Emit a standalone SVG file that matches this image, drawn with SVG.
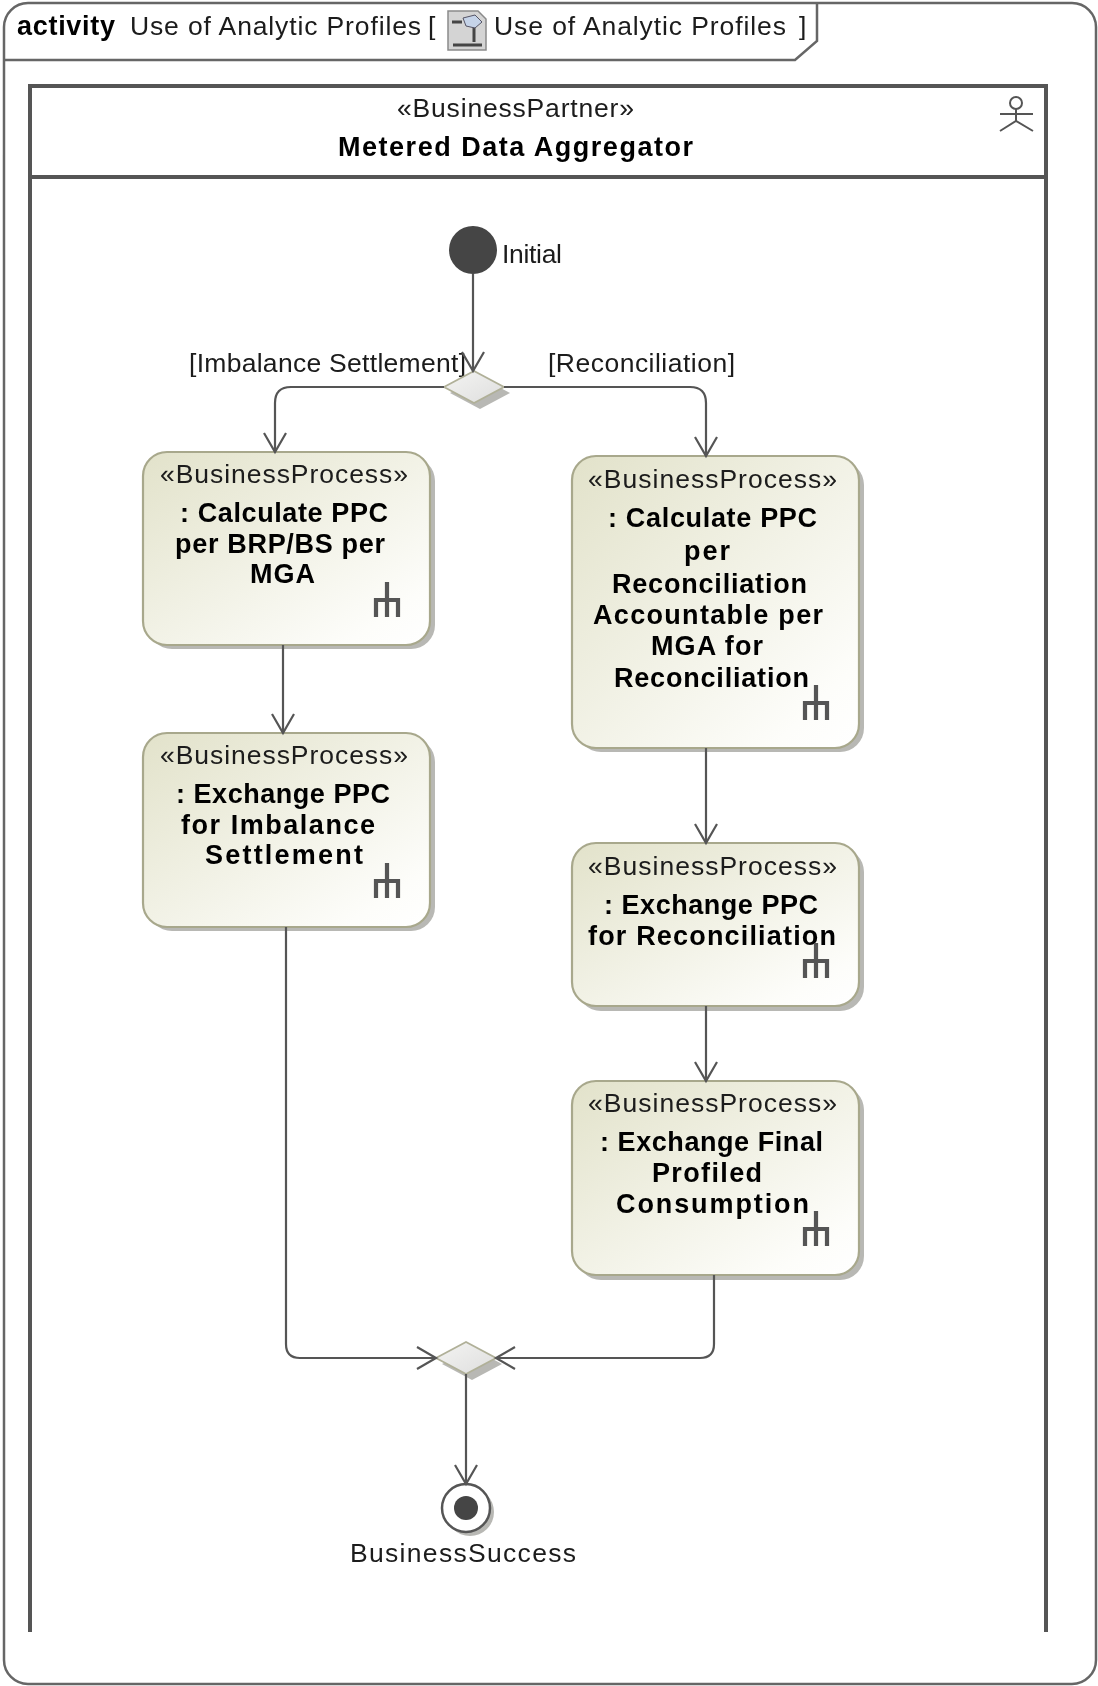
<svg xmlns="http://www.w3.org/2000/svg" width="1098" height="1686" viewBox="0 0 1098 1686">
<style>
text{font-family:"Liberation Sans",Arial,sans-serif;font-size:26.5px;fill:#1a1a1a}
.b{font-weight:bold;fill:#000;font-size:27px}
.act{fill:url(#g);stroke:#a8a88c;stroke-width:2.2}
.sh{fill:#b8b8b4}
.rake{fill:none;stroke:#555;stroke-width:4.2}
.c{fill:none;stroke:#555;stroke-width:2.2}
.frame{fill:#fff;stroke:#666;stroke-width:2.5}
.lane{fill:none;stroke:#555;stroke-width:4}
</style>
<defs>
<filter id="soft" x="0" y="0" width="100%" height="100%" filterUnits="userSpaceOnUse"><feGaussianBlur stdDeviation="0.55"/></filter>
<linearGradient id="g" x1="0" y1="0" x2="1" y2="1"><stop offset="0" stop-color="#e2e2ca"/><stop offset="0.85" stop-color="#fdfdfa"/><stop offset="1" stop-color="#ffffff"/></linearGradient>
<linearGradient id="gd" x1="0" y1="0" x2="1" y2="1"><stop offset="0" stop-color="#f4f4f2"/><stop offset="1" stop-color="#dedede"/></linearGradient>
<marker id="arr" markerUnits="userSpaceOnUse" markerWidth="30" markerHeight="30" refX="20" refY="12" orient="auto"><path d="M1 1L20 12L1 23" fill="none" stroke="#555" stroke-width="2.2"/></marker>
<path id="rk" class="rake" d="M0 -18V0M-11 17V0H11V17M0 0V17"/>
</defs>
<g id="page" filter="url(#soft)">
<g id="frame">
<rect class="frame" x="4" y="3" width="1092" height="1681" rx="24"/>
<path d="M4 60H795L817 41V3" fill="none" stroke="#666" stroke-width="2.5"/>
<text class="b" x="17" y="35" textLength="98" lengthAdjust="spacing">activity</text>
<text x="130" y="35" textLength="291" lengthAdjust="spacing">Use of Analytic Profiles</text>
<text x="428" y="35">[</text>
<g id="diagram-icon">
<path d="M448 11H478L486 19V50H448Z" fill="#d4d4d4" stroke="#8a8a8a" stroke-width="1.5"/>
<path d="M452 22H462M474 26V42M453 45H482" stroke="#444" stroke-width="3" fill="none"/>
<path d="M463 18L475 15L482 22L475 28L466 26Z" fill="#c5d3e8" stroke="#556" stroke-width="1"/>
</g>
<text x="494" y="35" textLength="292" lengthAdjust="spacing">Use of Analytic Profiles</text>
<text x="799" y="35">]</text>
</g>
<g id="lane">
<path class="lane" d="M30 1632V86H1046V1632M30 177H1046"/>
<text x="397" y="117" textLength="237" lengthAdjust="spacing">«BusinessPartner»</text>
<text class="b" x="338" y="156" textLength="355" lengthAdjust="spacing">Metered Data Aggregator</text>
<g id="actor" fill="none" stroke="#555" stroke-width="2">
<circle cx="1016" cy="103" r="6"/><path d="M1016 109V121M1000 114H1033M1000 131L1016 121L1033 131"/>
</g>
</g>
<g id="labels">
<text x="189" y="372" textLength="277" lengthAdjust="spacing">[Imbalance Settlement]</text>
<text x="548" y="372" textLength="187" lengthAdjust="spacing">[Reconciliation]</text>
</g>
<g id="initial">
<circle cx="473" cy="250" r="24" fill="#444"/>
<text x="502" y="263" textLength="60" lengthAdjust="spacing">Initial</text>
</g>
<g id="decision">
<path class="sh" d="M450 393L480 377L510 393L480 409Z"/>
<path d="M444 387L474 371L504 387L474 403Z" fill="url(#gd)" stroke="#b0b098" stroke-width="1.8"/>
</g>
<g id="calc-brp">
<rect class="sh" x="148" y="457" width="287" height="192" rx="24"/>
<rect class="act" x="143" y="452" width="287" height="193" rx="24"/>
<text x="160" y="483" textLength="248" lengthAdjust="spacing">«BusinessProcess»</text>
<text class="b" x="180" y="522" textLength="208" lengthAdjust="spacing">: Calculate PPC</text>
<text class="b" x="175" y="553" textLength="210" lengthAdjust="spacing">per BRP/BS per</text>
<text class="b" x="250" y="583" textLength="65" lengthAdjust="spacing">MGA</text>
<use href="#rk" x="387" y="600"/>
</g>
<g id="exch-imb">
<rect class="sh" x="148" y="738" width="287" height="193" rx="24"/>
<rect class="act" x="143" y="733" width="287" height="194" rx="24"/>
<text x="160" y="764" textLength="248" lengthAdjust="spacing">«BusinessProcess»</text>
<text class="b" x="176" y="803" textLength="214" lengthAdjust="spacing">: Exchange PPC</text>
<text class="b" x="181" y="834" textLength="194" lengthAdjust="spacing">for Imbalance</text>
<text class="b" x="205" y="864" textLength="158" lengthAdjust="spacing">Settlement</text>
<use href="#rk" x="387" y="881"/>
</g>
<g id="calc-recon">
<rect class="sh" x="577" y="461" width="287" height="291" rx="24"/>
<rect class="act" x="572" y="456" width="287" height="292" rx="24"/>
<text x="588" y="488" textLength="249" lengthAdjust="spacing">«BusinessProcess»</text>
<text class="b" x="608" y="527" textLength="209" lengthAdjust="spacing">: Calculate PPC</text>
<text class="b" x="684" y="560" textLength="46" lengthAdjust="spacing">per</text>
<text class="b" x="612" y="593" textLength="195" lengthAdjust="spacing">Reconciliation</text>
<text class="b" x="593" y="624" textLength="230" lengthAdjust="spacing">Accountable per</text>
<text class="b" x="651" y="655" textLength="112" lengthAdjust="spacing">MGA for</text>
<text class="b" x="614" y="687" textLength="195" lengthAdjust="spacing">Reconciliation</text>
<use href="#rk" x="816" y="703"/>
</g>
<g id="exch-recon">
<rect class="sh" x="577" y="848" width="287" height="163" rx="24"/>
<rect class="act" x="572" y="843" width="287" height="163" rx="24"/>
<text x="588" y="875" textLength="249" lengthAdjust="spacing">«BusinessProcess»</text>
<text class="b" x="604" y="914" textLength="214" lengthAdjust="spacing">: Exchange PPC</text>
<text class="b" x="588" y="945" textLength="248" lengthAdjust="spacing">for Reconciliation</text>
<use href="#rk" x="816" y="961"/>
</g>
<g id="exch-final">
<rect class="sh" x="577" y="1086" width="287" height="194" rx="24"/>
<rect class="act" x="572" y="1081" width="287" height="194" rx="24"/>
<text x="588" y="1112" textLength="249" lengthAdjust="spacing">«BusinessProcess»</text>
<text class="b" x="600" y="1151" textLength="223" lengthAdjust="spacing">: Exchange Final</text>
<text class="b" x="652" y="1182" textLength="110" lengthAdjust="spacing">Profiled</text>
<text class="b" x="616" y="1213" textLength="193" lengthAdjust="spacing">Consumption</text>
<use href="#rk" x="816" y="1229"/>
</g>
<g id="merge">
<path class="sh" d="M442 1364L472 1348L502 1364L472 1380Z"/>
<path d="M436 1358L466 1342L496 1358L466 1374Z" fill="url(#gd)" stroke="#b0b098" stroke-width="1.8"/>
</g>
<g id="final">
<circle cx="470" cy="1512" r="24" class="sh"/>
<circle cx="466" cy="1508" r="24" fill="#fff" stroke="#555" stroke-width="2.5"/>
<circle cx="466" cy="1508" r="12" fill="#444"/>
<text x="350" y="1562" textLength="226" lengthAdjust="spacing">BusinessSuccess</text>
</g>
<g id="connectors">
<path class="c" marker-end="url(#arr)" d="M473 274V371"/>
<path class="c" marker-end="url(#arr)" d="M444 387H291Q275 387 275 403V452"/>
<path class="c" marker-end="url(#arr)" d="M504 387H690Q706 387 706 403V456"/>
<path class="c" marker-end="url(#arr)" d="M283 645V733"/>
<path class="c" marker-end="url(#arr)" d="M286 927V1344Q286 1358 300 1358H436"/>
<path class="c" marker-end="url(#arr)" d="M714 1275V1344Q714 1358 700 1358H496"/>
<path class="c" marker-end="url(#arr)" d="M706 748V843"/>
<path class="c" marker-end="url(#arr)" d="M706 1006V1081"/>
<path class="c" marker-end="url(#arr)" d="M466 1374V1484"/>
</g>
</g>
</svg>
